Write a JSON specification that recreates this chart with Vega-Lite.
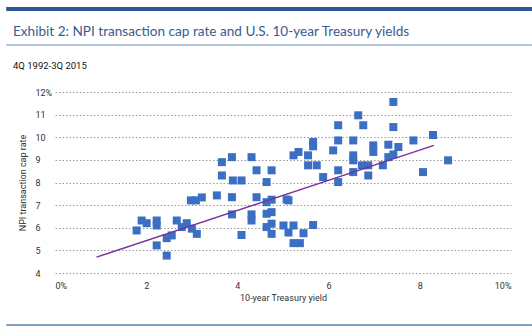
{
  "$schema": "https://vega.github.io/schema/vega-lite/v6.json",
  "width": 456,
  "height": 181,
  "autosize": {"type": "none"},
  "padding": {"left": 55, "top": 92, "right": 21, "bottom": 58},
  "background": "white",
  "title": {
    "text": "Exhibit 2: NPI transaction cap rate and U.S. 10-year Treasury yields",
    "subtitle": "4Q 1992-3Q 2015",
    "anchor": "start",
    "frame": "group",
    "dx": -42,
    "offset": -64,
    "font": "Lato",
    "fontSize": 13.6,
    "fontWeight": "normal",
    "color": "#3b5b8f",
    "subtitleFont": "Roboto",
    "subtitleFontSize": 9.5,
    "subtitleColor": "#111111",
    "subtitlePadding": 23
  },
  "datasets": {
    "points": [
      {"yield": 3.66, "cap": 8.90}, {"yield": 3.88, "cap": 9.12}, {"yield": 4.31, "cap": 9.12},
      {"yield": 3.66, "cap": 8.31}, {"yield": 4.42, "cap": 8.54}, {"yield": 4.75, "cap": 8.54},
      {"yield": 3.90, "cap": 8.09}, {"yield": 4.09, "cap": 8.09}, {"yield": 4.64, "cap": 8.02},
      {"yield": 3.55, "cap": 7.43}, {"yield": 3.88, "cap": 7.35}, {"yield": 4.42, "cap": 7.35},
      {"yield": 2.98, "cap": 7.21}, {"yield": 3.09, "cap": 7.21}, {"yield": 3.22, "cap": 7.34},
      {"yield": 4.64, "cap": 7.13}, {"yield": 4.75, "cap": 7.24}, {"yield": 5.08, "cap": 7.25},
      {"yield": 3.88, "cap": 6.59}, {"yield": 4.31, "cap": 6.59}, {"yield": 4.31, "cap": 6.32},
      {"yield": 4.64, "cap": 6.62}, {"yield": 4.75, "cap": 6.69}, {"yield": 4.64, "cap": 6.03},
      {"yield": 4.75, "cap": 6.18}, {"yield": 4.75, "cap": 5.73}, {"yield": 5.01, "cap": 6.10},
      {"yield": 5.12, "cap": 5.79}, {"yield": 4.09, "cap": 5.68}, {"yield": 5.23, "cap": 5.32},
      {"yield": 5.37, "cap": 5.32}, {"yield": 1.90, "cap": 6.32}, {"yield": 2.01, "cap": 6.20},
      {"yield": 2.23, "cap": 6.32}, {"yield": 2.23, "cap": 6.10}, {"yield": 1.79, "cap": 5.88},
      {"yield": 2.67, "cap": 6.32}, {"yield": 2.89, "cap": 6.20}, {"yield": 2.78, "cap": 6.03},
      {"yield": 3.00, "cap": 5.96}, {"yield": 3.11, "cap": 5.73}, {"yield": 2.56, "cap": 5.66},
      {"yield": 2.45, "cap": 5.54}, {"yield": 2.23, "cap": 5.22}, {"yield": 2.45, "cap": 4.77},
      {"yield": 7.42, "cap": 11.56}, {"yield": 6.65, "cap": 10.97}, {"yield": 6.21, "cap": 10.53},
      {"yield": 6.76, "cap": 10.53}, {"yield": 7.42, "cap": 10.45}, {"yield": 5.66, "cap": 9.79},
      {"yield": 5.66, "cap": 9.60}, {"yield": 6.21, "cap": 9.86}, {"yield": 6.54, "cap": 9.86},
      {"yield": 6.98, "cap": 9.64}, {"yield": 6.98, "cap": 9.35}, {"yield": 7.31, "cap": 9.67},
      {"yield": 7.53, "cap": 9.57}, {"yield": 7.86, "cap": 9.86}, {"yield": 8.29, "cap": 10.10},
      {"yield": 5.23, "cap": 9.20}, {"yield": 5.34, "cap": 9.35}, {"yield": 5.55, "cap": 9.20},
      {"yield": 6.10, "cap": 9.42}, {"yield": 6.54, "cap": 9.20}, {"yield": 6.54, "cap": 8.98},
      {"yield": 7.31, "cap": 9.12}, {"yield": 7.42, "cap": 9.24}, {"yield": 5.55, "cap": 8.76},
      {"yield": 5.74, "cap": 8.76}, {"yield": 6.73, "cap": 8.76}, {"yield": 6.87, "cap": 8.76},
      {"yield": 7.19, "cap": 8.76}, {"yield": 8.62, "cap": 8.98}, {"yield": 6.21, "cap": 8.54},
      {"yield": 6.54, "cap": 8.46}, {"yield": 8.07, "cap": 8.46}, {"yield": 6.87, "cap": 8.31},
      {"yield": 5.88, "cap": 8.24}, {"yield": 6.21, "cap": 8.02}, {"yield": 5.12, "cap": 7.21},
      {"yield": 5.23, "cap": 6.10}, {"yield": 5.45, "cap": 5.76}, {"yield": 5.66, "cap": 6.12}
    ],
    "trend": [
      {"yield": 0.91, "cap": 4.70},
      {"yield": 8.31, "cap": 9.64}
    ]
  },
  "config": {
    "view": {"stroke": null},
    "axis": {
      "labelFont": "Roboto",
      "labelFontSize": 9,
      "labelColor": "#333333",
      "labelOverlap": false,
      "titleFont": "Roboto",
      "titleFontSize": 9,
      "titleFontWeight": "normal",
      "titleColor": "#333333",
      "domain": false,
      "ticks": false,
      "tickSize": 0
    },
    "axisX": {"grid": false, "labelPadding": 8, "titlePadding": 3},
    "axisY": {
      "grid": true,
      "gridColor": "#9a9a9a",
      "gridDash": [1.5, 2],
      "gridWidth": 1,
      "labelAlign": "left",
      "labelPadding": 20,
      "titlePadding": 8
    }
  },
  "encoding": {
    "x": {
      "type": "quantitative",
      "scale": {"domain": [0, 10], "nice": false, "zero": false},
      "axis": {
        "values": [0, 2, 4, 6, 8, 10],
        "labelExpr": "datum.value == 0 ? '0%' : datum.value == 10 ? '10%' : datum.label",
        "title": "10-year Treasury yield"
      }
    },
    "y": {
      "type": "quantitative",
      "scale": {"domain": [4, 12], "nice": false, "zero": false},
      "axis": {
        "values": [4, 5, 6, 7, 8, 9, 10, 11, 12],
        "labelExpr": "datum.value == 12 ? '12%' : datum.label",
        "title": "NPI transaction cap rate"
      }
    }
  },
  "layer": [
    {
      "data": {"name": "points"},
      "mark": {"type": "point", "shape": "square", "filled": true, "size": 64, "opacity": 1, "color": "#3b6fc4"},
      "encoding": {
        "x": {"field": "yield"},
        "y": {"field": "cap"}
      }
    },
    {
      "data": {"name": "trend"},
      "mark": {"type": "line", "color": "#7a2f9a", "strokeWidth": 1.5},
      "encoding": {
        "x": {"field": "yield"},
        "y": {"field": "cap"}
      }
    },
    {
      "data": {"values": [{}]},
      "mark": {"type": "rule", "color": "#2f5597", "strokeWidth": 4},
      "encoding": {
        "x": {"datum": -1.07}, "x2": {"datum": 10.46},
        "y": {"datum": 15.67}
      }
    },
    {
      "data": {"values": [{}]},
      "mark": {"type": "rule", "color": "#9bb2d3", "strokeWidth": 1.5},
      "encoding": {
        "x": {"datum": -1.07}, "x2": {"datum": 10.46},
        "y": {"datum": 14.08}
      }
    },
    {
      "data": {"values": [{}]},
      "mark": {"type": "rule", "color": "#5b7fb0", "strokeWidth": 1.5},
      "encoding": {
        "x": {"datum": -1.07}, "x2": {"datum": 10.46},
        "y": {"datum": 1.70}
      }
    }
  ]
}
